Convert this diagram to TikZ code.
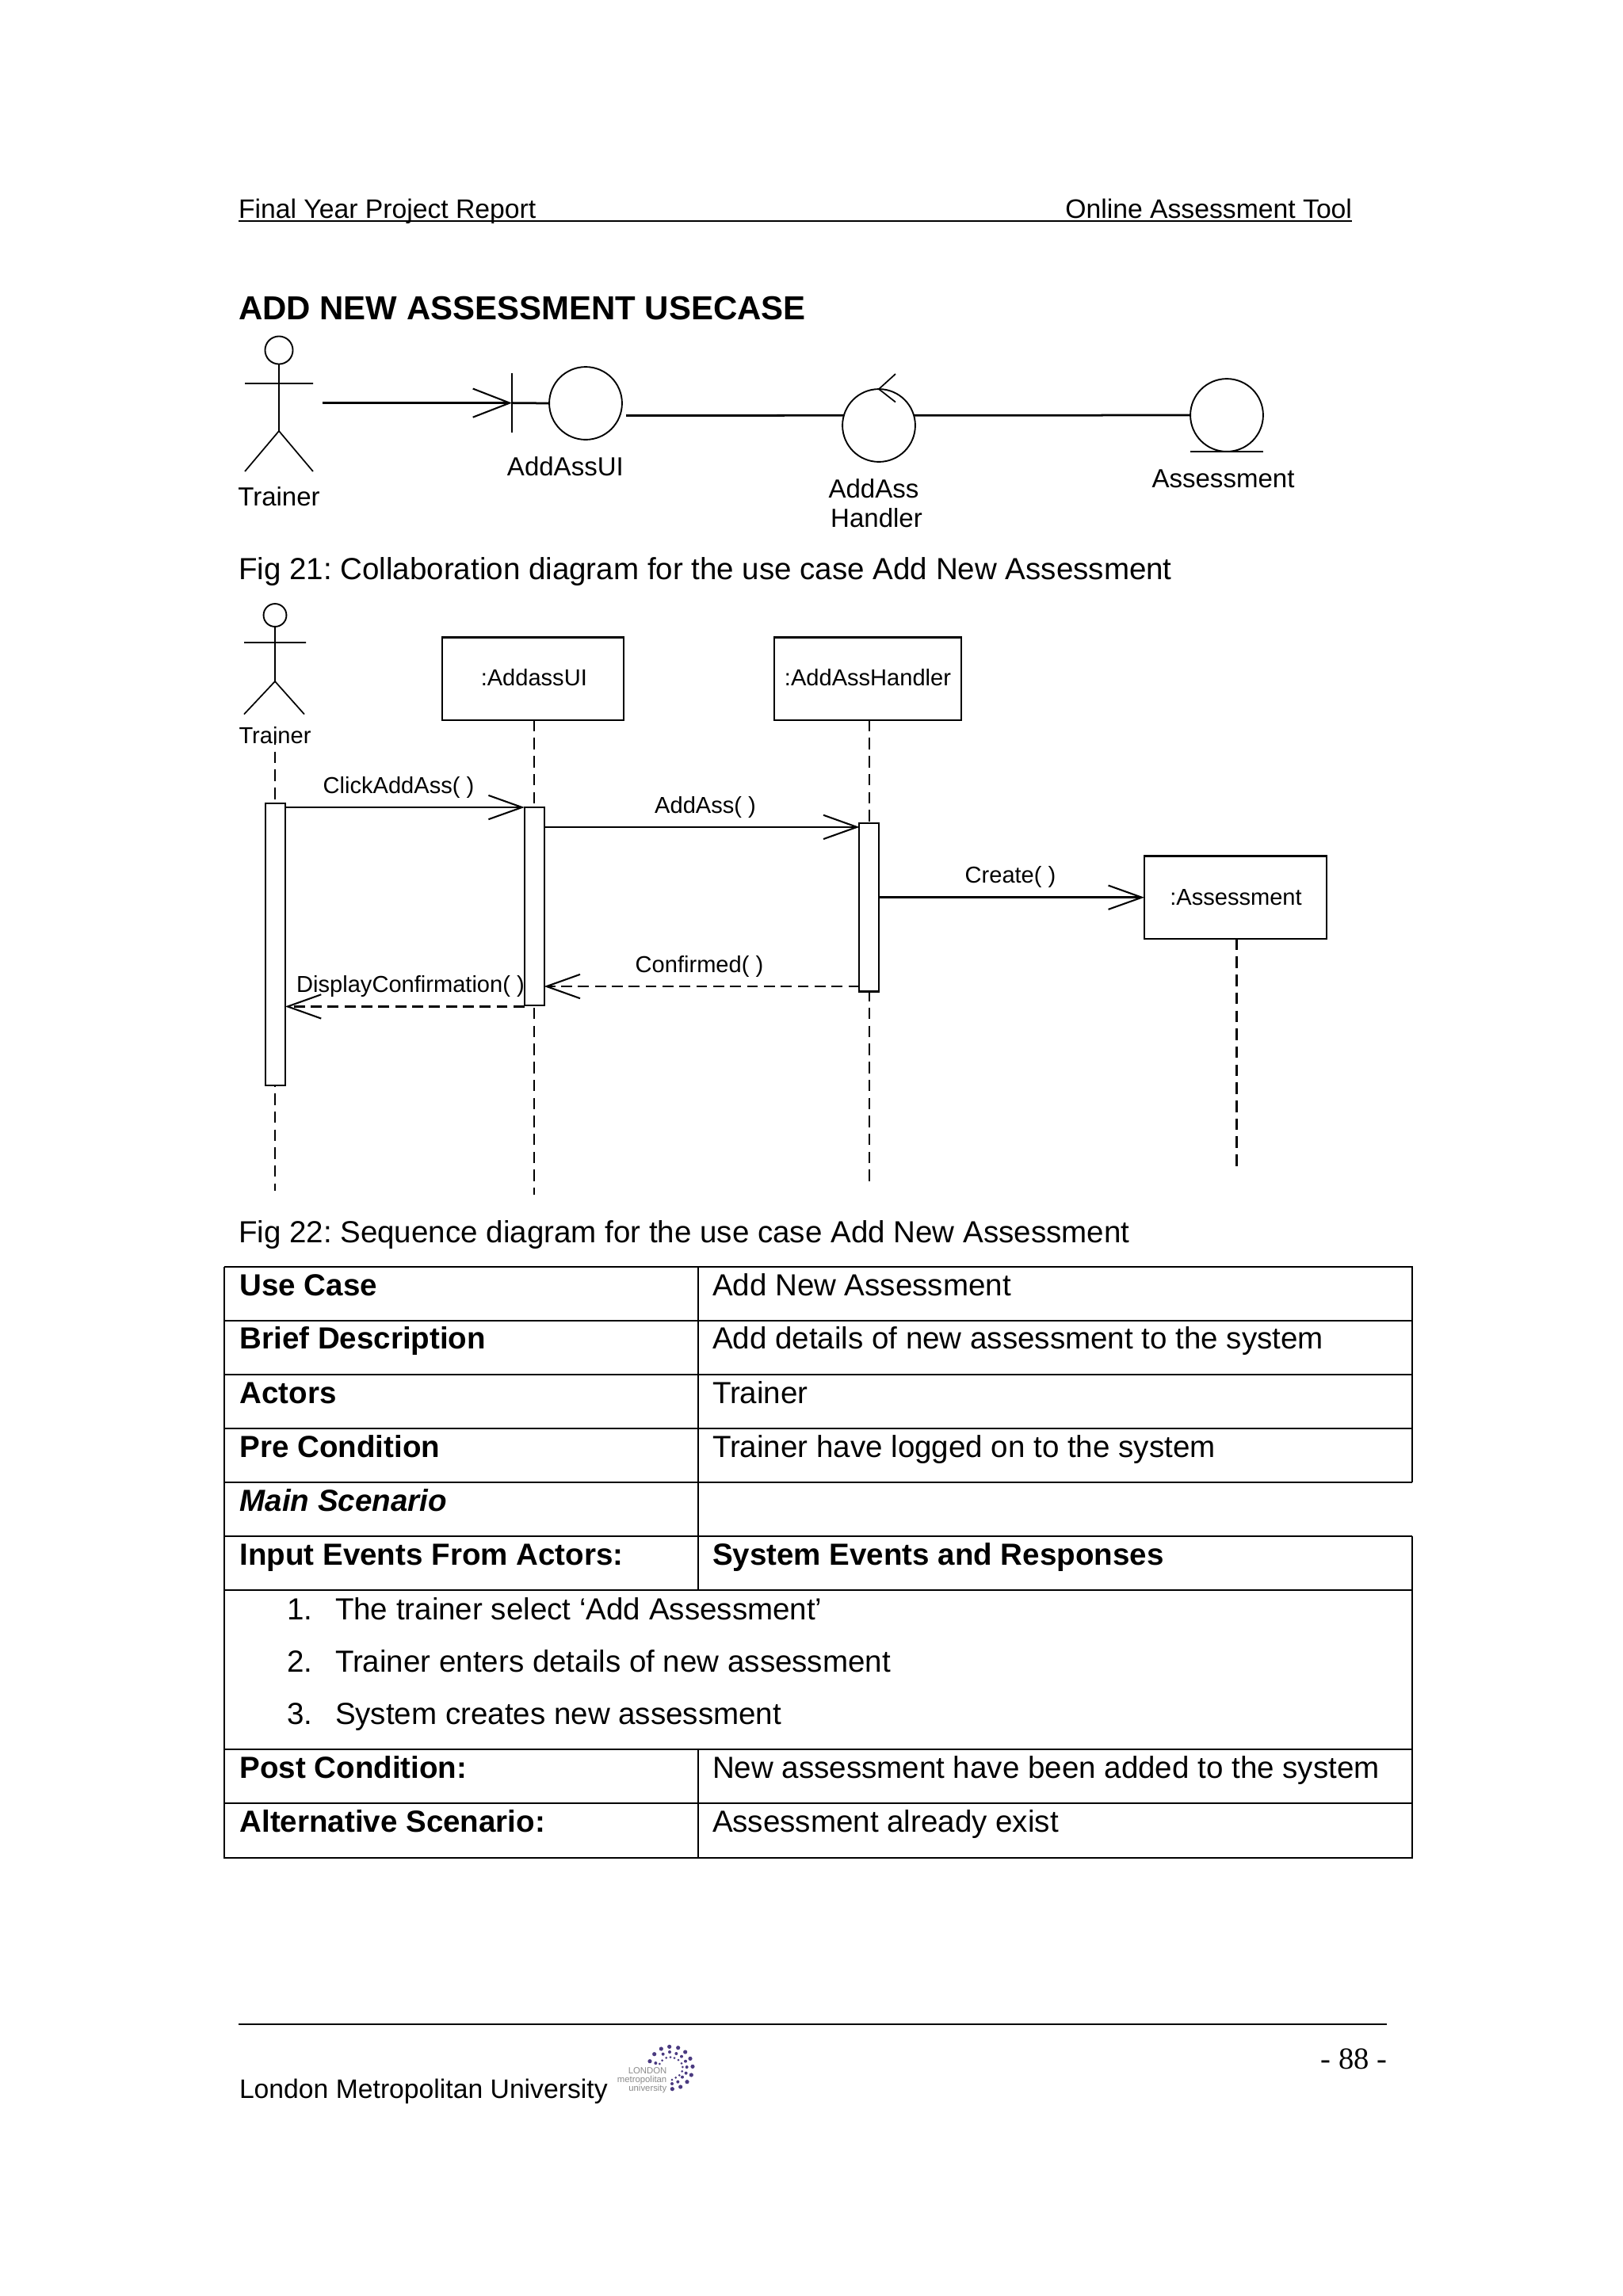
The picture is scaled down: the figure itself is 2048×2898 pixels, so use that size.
\documentclass[tikz,border=0pt]{standalone}
\usepackage{fontspec}
\setmainfont{Liberation Sans}
\newfontfamily\timesf{Liberation Serif}
\usetikzlibrary{arrows.meta,shapes.geometric}
\definecolor{logodot}{HTML}{4A3A80}
\definecolor{logotext}{HTML}{8A8A8A}
\tikzset{
  txt/.style={anchor=base west,inner sep=0pt,outer sep=0pt,font=\fontsize{11.2}{14}\selectfont},
  figcap/.style={txt},
  hdr/.style={txt,font=\fontsize{9.8}{12}\selectfont},
  boldtxt/.style={txt,font=\fontsize{11.2}{14}\selectfont\bfseries},
  col/.style={anchor=base,inner sep=0pt,outer sep=0pt,font=\fontsize{9.6}{12}\selectfont},
  seq/.style={anchor=base,inner sep=0pt,outer sep=0pt,font=\fontsize{8.45}{10}\selectfont},
  thinl/.style={line width=0.5pt},
  thickl/.style={line width=0.8pt},
  robust/.style={draw,circle,inner sep=0pt,outer sep=0pt,minimum size=26.7pt,line width=0.55pt},
  objbox/.style={draw,rectangle,inner sep=0pt,outer sep=0pt,line width=0.6pt,minimum height=30.3pt},
  activ/.style={draw,rectangle,fill=white,inner sep=0pt,outer sep=0pt,line width=0.6pt,minimum width=7.2pt},
  life/.style={line width=0.6pt,dash pattern=on 4.2pt off 2.4pt},
  msg/.style={line width=0.75pt,-{Straight Barb[length=12.3pt,width=8.8pt,line width=0.6pt]}},
  ret/.style={msg,dash pattern=on 4pt off 2.2pt},
  tbl/.style={line width=0.55pt},
  logotxt/.style={anchor=base east,inner sep=0pt,text=logotext,font=\fontsize{3.3}{5}\selectfont},
}
\begin{document}
\frenchspacing
\begin{tikzpicture}[x=0.2907pt,y=-0.2907pt]
\useasboundingbox (0,0) rectangle (2048,2898);
% header
\node[hdr] (h1) at (301,275) {Final Year Project Report};
\node[hdr,anchor=base east] (h2) at (1706,275) {Online Assessment Tool};
\coordinate (hl) at (301,279); \coordinate (hr) at (1706,279);
\draw[line width=0.7pt] (hl) -- (hr);
\node[txt,font=\fontsize{12.2}{16}\selectfont\bfseries] (title) at (301,403) {ADD NEW ASSESSMENT USECASE};
% collaboration diagram
\node[draw,circle,inner sep=0pt,outer sep=0pt,minimum size=10.2pt,line width=0.55pt] (head1) at (352,442) {};
\coordinate (hip1) at (352,544); \coordinate (al1) at (309,484); \coordinate (ar1) at (395,484);
\coordinate (ll1) at (309,595); \coordinate (lr1) at (395,595);
\draw[thinl] (head1.south) -- (hip1) (al1) -- (ar1) (ll1) -- (hip1) -- (lr1);
\node[col] (tr1) at (352,638) {Trainer};
\node[robust] (ui) at (739,509) {};
\coordinate (a0) at (406.5,508.6); \coordinate (bar) at (646,508.6);
\coordinate (bt) at (646,471); \coordinate (bb) at (646,546);
\draw[thickl,-{Straight Barb[length=13.5pt,width=10.5pt,line width=0.6pt]}] (a0) -- (bar);
\draw[thinl] (bt) -- (bb);
\draw[thickl] (bar) -- (ui.west);
\node[robust] (ctrl) at (1109,537) {};
\coordinate (c0) at (790,524.4);
\draw[thickl] (c0) -- (ctrl.164);
\coordinate (ct1) at (1130,472); \coordinate (ct2) at (1130,507.5);
\draw[thinl] (ct1) -- (ctrl.north) -- (ct2);
\node[robust] (ent) at (1548,524) {};
\draw[thickl] (ctrl.16) -- (ent.west);
\coordinate (eu1) at (1502,570); \coordinate (eu2) at (1594,570);
\draw[thickl] (eu1) -- (eu2);
\node[col] (luI) at (713.4,600) {AddAssUI};
\node[col] (lh1) at (1102.5,628) {AddAss};
\node[col] (lh2) at (1106,665) {Handler};
\node[col] (le) at (1543.5,615) {Assessment};
\node[figcap] (fig21) at (301,731) {Fig 21: Collaboration diagram for the use case Add New Assessment};
% sequence diagram
\node[draw,circle,inner sep=0pt,outer sep=0pt,minimum size=8.4pt,line width=0.55pt] (head2) at (347,776.5) {};
\coordinate (hip2) at (347,860); \coordinate (al2) at (308,811); \coordinate (ar2) at (386,811);
\coordinate (ll2) at (308,901.5); \coordinate (lr2) at (384,901.5);
\draw[thinl] (head2.south) -- (hip2) (al2) -- (ar2) (ll2) -- (hip2) -- (lr2);
\node[seq] (tr2) at (347,938) {Trainer};
\node[objbox,minimum width=66.5pt] (bui) at (672.8,856.6) {};
\node[seq] (lbui) at (673.8,865) {:AddassUI};
\node[objbox,minimum width=68.6pt] (bh) at (1095,856.6) {};
\node[seq] (lbh) at (1095,865) {:AddAssHandler};
\node[objbox,minimum width=66.9pt] (ba) at (1559,1132.6) {};
\node[seq] (lba) at (1559.5,1142) {:Assessment};
\coordinate (t0) at (347,926); \coordinate (t1) at (347,1502.5);
\coordinate (u1) at (673.8,1507.6); \coordinate (h1e) at (1096.8,1495); \coordinate (a1e) at (1560.5,1478.6);
\draw[life] (t0) -- (t1);
\draw[life] (bui.south -| u1) -- (u1);
\draw[life] (bh.south -| h1e) -- (h1e);
\draw[life] (ba.south -| a1e) -- (a1e);
\node[activ,minimum height=103.6pt] (at) at (347.5,1192) {};
\node[activ,minimum height=72.8pt] (au) at (674.2,1144.2) {};
\node[activ,minimum height=61.9pt] (ah) at (1096.8,1145) {};
\coordinate (m1) at (0,1019); \coordinate (m2) at (0,1043.9); \coordinate (m3) at (0,1132.7);
\coordinate (m4) at (0,1245); \coordinate (m5) at (0,1270.4);
\draw[msg] (at.east |- m1) -- (au.west |- m1);
\draw[msg] (au.east |- m2) -- (ah.west |- m2);
\draw[msg] (ah.east |- m3) -- (ba.west |- m3);
\draw[ret] (ah.west |- m4) -- (au.east |- m4);
\draw[ret] (au.west |- m5) -- (at.east |- m5);
\node[seq] (lm1) at (503,1001) {ClickAddAss( )};
\node[seq] (lm2) at (890,1026.5) {AddAss( )};
\node[seq] (lm3) at (1275,1114.8) {Create( )};
\node[seq] (lm4) at (882.5,1227) {Confirmed( )};
\node[seq] (lm5) at (518,1252.5) {DisplayConfirmation( )};
\node[figcap] (fig22) at (301,1568.5) {Fig 22: Sequence diagram for the use case Add New Assessment};
% table
\coordinate (tl) at (283,1598.7); \coordinate (tm) at (881,1598.7); \coordinate (tr) at (1782,1598.7);
\coordinate (bl) at (283,2344.6); \coordinate (br) at (1782,2344.6);
\draw[tbl] (tl) -- (bl) -- (br) -- (1782,1939) (1782,1871) -- (tr) -- (tl);
\foreach \yy in {1667,1735,1802.8,1871,1939,2006.8,2208.4,2276}
  \draw[tbl] (283,\yy) -- (1782,\yy);
\draw[tbl] (881,1598.7) -- (881,2006.8) (881,2208.4) -- (881,2344.6);
\node[boldtxt] (t1a) at (302.6,1635) {Use Case};
\node[txt] (t1b) at (899,1635) {Add New Assessment};
\node[boldtxt] (t2a) at (302.6,1702.5) {Brief Description};
\node[txt] (t2b) at (899,1702.5) {Add details of new assessment to the system};
\node[boldtxt] (t3a) at (302.6,1771) {Actors};
\node[txt] (t3b) at (899,1771) {Trainer};
\node[boldtxt] (t4a) at (302.6,1839) {Pre Condition};
\node[txt] (t4b) at (899,1839) {Trainer have logged on to the system};
\node[txt,font=\fontsize{11.2}{14}\selectfont\bfseries\itshape] (t5a) at (302.6,1907) {Main Scenario};
\node[boldtxt] (t6a) at (302.6,1975) {Input Events From Actors:};
\node[boldtxt] (t6b) at (899,1975) {System Events and Responses};
\node[txt] (n1) at (362,2044) {1.};
\node[txt] (i1) at (423,2044) {The trainer select ‘Add Assessment’};
\node[txt] (n2) at (362,2110.4) {2.};
\node[txt] (i2) at (423,2110.4) {Trainer enters details of new assessment};
\node[txt] (n3) at (362,2176.7) {3.};
\node[txt] (i3) at (423,2176.7) {System creates new assessment};
\node[boldtxt] (t7a) at (302.6,2244) {Post Condition:};
\node[txt] (t7b) at (899,2244) {New assessment have been added to the system};
\node[boldtxt] (t8a) at (302.6,2312) {Alternative Scenario:};
\node[txt] (t8b) at (899,2312) {Assessment already exist};
% footer
\coordinate (fl) at (301,2555); \coordinate (fr) at (1750,2555);
\draw[line width=0.7pt] (fl) -- (fr);
\node[hdr] (lmu) at (302,2648) {London Metropolitan University};
\node[txt,anchor=base east,font=\fontsize{11.2}{14}\selectfont\timesf] (pg) at (1750,2611) {- 88 -};
% logo
\foreach \a/\b in {150/95,167/68,193/48,224/40,257/44,284/60,303/85,312/115,307/147,291/173,266/192,235/200}
  \fill[logodot] ({770+\a/3},{2570+\b/3}) circle (2.6);
\foreach \a/\b in {172/102,200/68,225/60,250/66,270/77,285/95,290/117,287/140,273/155,256/173,234/180}
  \fill[logodot] ({770+\a/3},{2570+\b/3}) circle (2);
\foreach \a/\b in {187/105,197/92,212/82,228/80,243/83,258/90,270/103,274/117,272/133,262/148,248/157,234/165}
  \fill[logodot] ({770+\a/3},{2570+\b/3}) circle (1.5);
\node[logotxt] (lg1) at (842,2617) {LONDON};
\node[logotxt] (lg2) at (842,2628) {metropolitan};
\node[logotxt] (lg3) at (842,2639) {university};
\end{tikzpicture}
\end{document}
